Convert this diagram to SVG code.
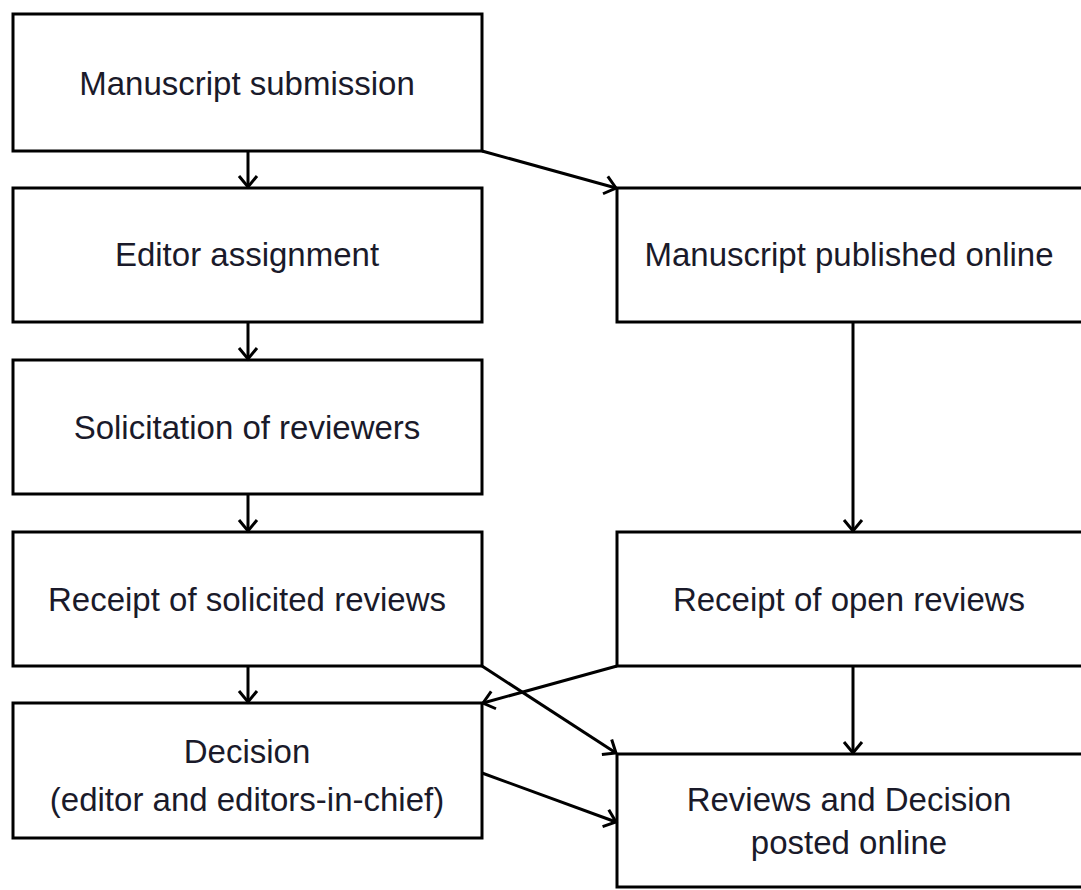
<svg xmlns="http://www.w3.org/2000/svg" width="1081" height="890" viewBox="0 0 1081 890">
<style>
.box{fill:#fff;stroke:#000;stroke-width:3}
.t{font-family:"Liberation Sans",Arial,sans-serif;font-size:33px;fill:#1a1a2a;text-anchor:middle}
.c{fill:none;stroke:#000;stroke-width:3}
</style>
<defs>
<marker id="ah" markerUnits="userSpaceOnUse" markerWidth="30" markerHeight="30" viewBox="-15 -15 30 30" refX="0" refY="0" orient="auto">
<path d="M-11,-9 L0,0 L-11,9" fill="none" stroke="#000" stroke-width="3"/>
</marker>
</defs>
<rect width="1081" height="890" fill="#fff"/>
<g id="n1"><rect class="box" x="13" y="14" width="469" height="137"/><text class="t" x="247" y="95">Manuscript submission</text></g>
<g id="n2"><rect class="box" x="13" y="188" width="469" height="134"/><text class="t" x="247" y="266">Editor assignment</text></g>
<g id="n3"><rect class="box" x="13" y="360" width="469" height="134"/><text class="t" x="247" y="439">Solicitation of reviewers</text></g>
<g id="n4"><rect class="box" x="13" y="532" width="469" height="134"/><text class="t" x="247" y="611">Receipt of solicited reviews</text></g>
<g id="n5"><rect class="box" x="13" y="703" width="469" height="135"/><text class="t" x="247" y="763">Decision</text><text class="t" x="247" y="811">(editor and editors-in-chief)</text></g>
<g id="r1"><rect class="box" x="617" y="188" width="470" height="134"/><text class="t" x="849" y="266">Manuscript published online</text></g>
<g id="r2"><rect class="box" x="617" y="532" width="470" height="134"/><text class="t" x="849" y="611">Receipt of open reviews</text></g>
<g id="r3"><rect class="box" x="617" y="754" width="470" height="133"/><text class="t" x="849" y="811">Reviews and Decision</text><text class="t" x="849" y="854">posted online</text></g>
<g id="connectors">
<line class="c" x1="248" y1="151" x2="248" y2="187" marker-end="url(#ah)"/>
<line class="c" x1="248" y1="322" x2="248" y2="359" marker-end="url(#ah)"/>
<line class="c" x1="248" y1="494" x2="248" y2="531" marker-end="url(#ah)"/>
<line class="c" x1="248" y1="666" x2="248" y2="702" marker-end="url(#ah)"/>
<line class="c" x1="482" y1="151" x2="616" y2="188" marker-end="url(#ah)"/>
<line class="c" x1="853" y1="322" x2="853" y2="531" marker-end="url(#ah)"/>
<line class="c" x1="853" y1="666" x2="853" y2="753" marker-end="url(#ah)"/>
<line class="c" x1="482" y1="666" x2="616" y2="753" marker-end="url(#ah)"/>
<line class="c" x1="617" y1="666" x2="483" y2="703" marker-end="url(#ah)"/>
<line class="c" x1="482" y1="773" x2="616" y2="822" marker-end="url(#ah)"/>
</g>
</svg>
